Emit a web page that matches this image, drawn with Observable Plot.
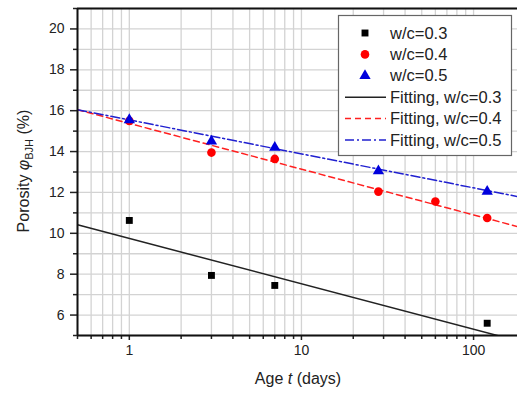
<!DOCTYPE html>
<html>
<head>
<meta charset="utf-8">
<script src="https://cdn.jsdelivr.net/npm/d3@7"></script>
<script src="https://cdn.jsdelivr.net/npm/@observablehq/plot@0.6"></script>
<style>
  html, body { margin: 0; padding: 0; background: #fff; }
  #chart { position: relative; width: 517px; height: 394px; }
</style>
</head>
<body>
<div id="chart"></div>
<script>
// ---- data ----
const ages03 = [1, 3, 7, 120];
const por03  = [10.63, 7.94, 7.45, 5.6];
const ages04 = [1, 3, 7, 28, 60, 120];
const por04  = [15.5, 13.95, 13.64, 12.04, 11.56, 10.75];
const ages05 = [1, 3, 7, 28, 120];
const por05  = [15.55, 14.5, 14.2, 13.05, 12.05];

// fitting lines (straight in log-time), endpoints
const fitAges = [0.5, 180];
const fit03 = [10.42, 4.74];
const fit04 = [16.05, 10.33];
const fit05 = [16.05, 11.8];

const seriesNames = ["w/c=0.3", "w/c=0.4", "w/c=0.5"];
const fitNames = ["Fitting, w/c=0.3", "Fitting, w/c=0.4", "Fitting, w/c=0.5"];

const xMajor = [1, 10, 100];
const xMinor = [0.5, 0.6, 0.7, 0.8, 0.9, 2, 3, 4, 5, 6, 7, 8, 9, 20, 30, 40, 50, 60, 70, 80, 90];
const yMajor = [6, 8, 10, 12, 14, 16, 18, 20];
const yMinor = [5, 7, 9, 11, 13, 15, 17, 19, 21];

// ---- tables ----
const pts = (ages, vals, s) => ages.map((t, i) => ({t, v: vals[i], s}));
const p03 = pts(ages03, por03, seriesNames[0]);
const p04 = pts(ages04, por04, seriesNames[1]);
const p05 = pts(ages05, por05, seriesNames[2]);
const f03 = pts(fitAges, fit03, fitNames[0]);
const f04 = pts(fitAges, fit04, fitNames[1]);
const f05 = pts(fitAges, fit05, fitNames[2]);

const gridColor = "#d3d3d3";
const FONT = "'Liberation Sans', Arial, sans-serif";

const chart = Plot.plot({
  width: 517, height: 394,
  marginLeft: 77, marginRight: 0, marginTop: 8, marginBottom: 59,
  x: {type: "log", domain: [0.5, 180]},
  y: {domain: [5, 21]},
  style: {fontFamily: FONT, fontSize: "14px", color: "#222", background: "#fff"},
  marks: [
    Plot.gridX(xMajor.concat(xMinor), {stroke: gridColor, strokeOpacity: 1, strokeWidth: 1.3}),
    Plot.gridY(yMajor.concat(yMinor), {stroke: gridColor, strokeOpacity: 1, strokeWidth: 1.3}),
    Plot.line(f03, {x: "t", y: "v", stroke: "#222", strokeWidth: 1.5, clip: true}),
    Plot.line(f04, {x: "t", y: "v", stroke: "#ff2020", strokeWidth: 1.5, strokeDasharray: "6,4", clip: true}),
    Plot.line(f05, {x: "t", y: "v", stroke: "#2020d0", strokeWidth: 1.5, strokeDasharray: "9,3,2,3", clip: true}),
    Plot.dot(p03, {x: "t", y: "v", symbol: "square", r: 3.9, fill: "#000", stroke: "none"}),
    Plot.dot(p04, {x: "t", y: "v", symbol: "circle", r: 4.3, fill: "#ff0000", stroke: "none"}),
    Plot.dot(p05, {x: "t", y: "v", symbol: "triangle", r: 4.2, fill: "#0000dd", stroke: "none"}),
    Plot.axisX(xMajor, {tickSize: 5, tickPadding: 5, tickFormat: d => String(d), label: null, fontSize: 14, stroke: "#222", strokeWidth: 1.5}),
    Plot.axisX(xMinor, {tickSize: 4, tickFormat: () => "", label: null, stroke: "#222", strokeWidth: 1.5}),
    Plot.axisY(yMajor, {tickSize: 7, tickPadding: 6, tickFormat: d => String(d), label: null, fontSize: 14, stroke: "#222", strokeWidth: 1.5}),
    Plot.axisY(yMinor, {tickSize: 4, tickFormat: () => "", label: null, stroke: "#222", strokeWidth: 1.5}),
    Plot.ruleX([0.5], {stroke: "#111", strokeWidth: 2}),
    Plot.ruleY([5, 21], {stroke: "#111", strokeWidth: 2})
  ]
});
document.getElementById("chart").appendChild(chart);

// ---- axis titles with rich text ----
const svg = d3.select(chart);
const yl = svg.append("text")
  .attr("transform", "translate(29,171) rotate(-90)")
  .attr("text-anchor", "middle")
  .attr("font-family", FONT).attr("font-size", 16).attr("fill", "#222");
yl.append("tspan").text("Porosity ");
yl.append("tspan").attr("font-style", "italic").text("\u03C6");
yl.append("tspan").attr("font-size", 11).attr("dy", 4).text("BJH");
yl.append("tspan").attr("dy", -4).text(" (%)");

const xl = svg.append("text")
  .attr("x", 298).attr("y", 384)
  .attr("text-anchor", "middle")
  .attr("font-family", FONT).attr("font-size", 16).attr("fill", "#222");
xl.append("tspan").text("Age ");
xl.append("tspan").attr("font-style", "italic").text("t");
xl.append("tspan").text(" (days)");

// ---- legend ----
const lg = svg.append("g").attr("text-anchor", "start");
lg.append("rect").attr("x", 338.5).attr("y", 15.5).attr("width", 173).attr("height", 140)
  .attr("fill", "#fff").attr("stroke", "#666").attr("stroke-width", 1.2);
const items = [
  {name: seriesNames[0], kind: "dot", sym: d3.symbolSquare, r: 3.9, color: "#000"},
  {name: seriesNames[1], kind: "dot", sym: d3.symbolCircle, r: 4.3, color: "#ff0000"},
  {name: seriesNames[2], kind: "dot", sym: d3.symbolTriangle, r: 4.2, color: "#0000dd"},
  {name: fitNames[0], kind: "line", color: "#222", dash: null},
  {name: fitNames[1], kind: "line", color: "#ff2020", dash: "6,4"},
  {name: fitNames[2], kind: "line", color: "#2020d0", dash: "9,3,2,3"}
];
items.forEach((it, i) => {
  const cy = 33 + i * 21.4;
  if (it.kind === "dot") {
    lg.append("path").attr("transform", `translate(365,${cy})`)
      .attr("d", d3.symbol(it.sym, Math.PI * it.r * it.r)()).attr("fill", it.color);
  } else {
    const l = lg.append("line").attr("x1", 345).attr("x2", 386).attr("y1", cy).attr("y2", cy)
      .attr("stroke", it.color).attr("stroke-width", 1.5);
    if (it.dash) l.attr("stroke-dasharray", it.dash);
  }
  lg.append("text").attr("x", 390).attr("y", cy + 5.5).attr("text-anchor", "start")
    .attr("font-family", FONT).attr("font-size", 16.5).attr("fill", "#222").text(it.name);
});
</script>
</body>
</html>
